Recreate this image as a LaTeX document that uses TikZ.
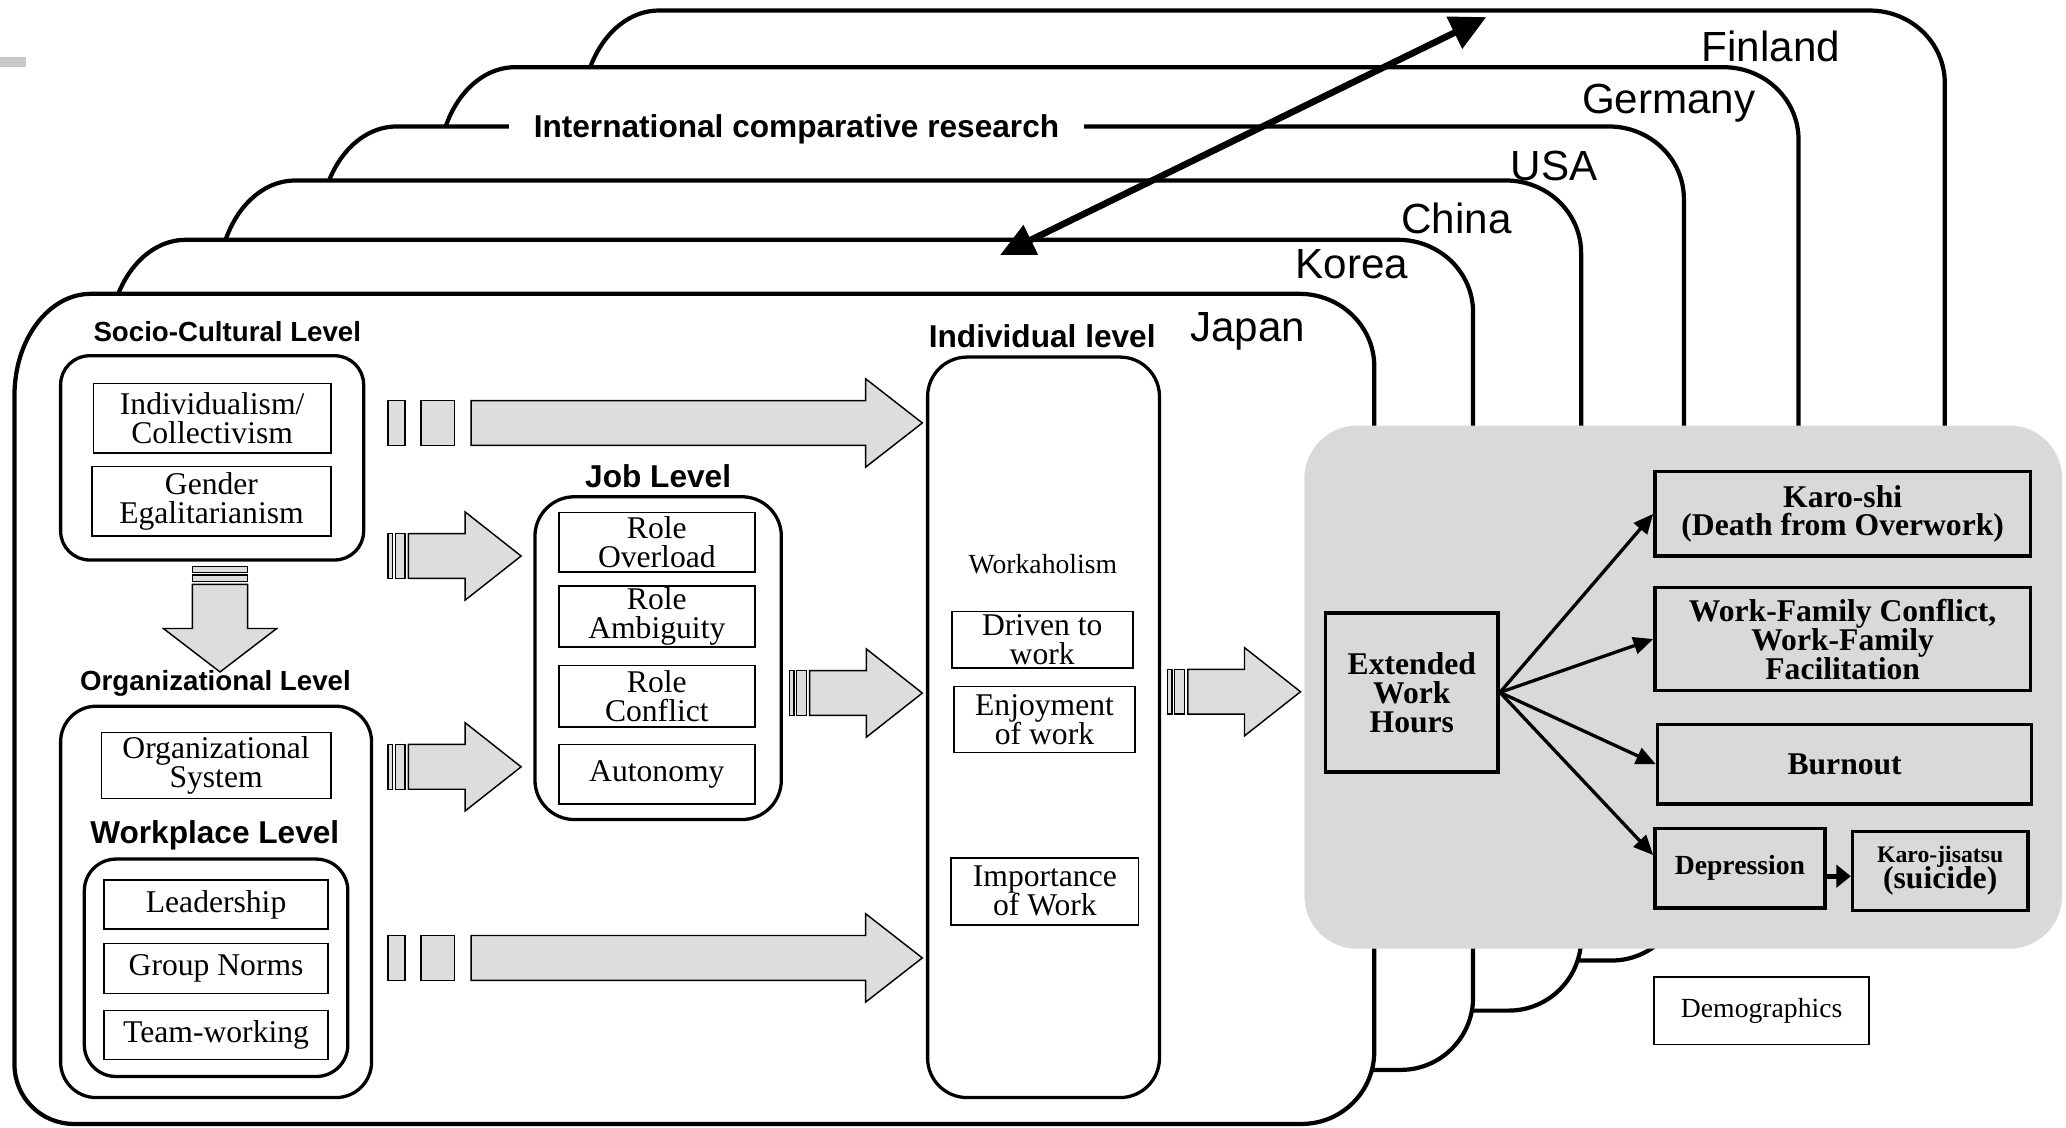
\documentclass[tikz,border=0pt]{standalone}
\usepackage{fontspec}
\setmainfont{Liberation Serif}
\setsansfont{Liberation Sans}
\usetikzlibrary{arrows.meta,calc}
\definecolor{panelgray}{RGB}{217,217,217}
\definecolor{arrowgray}{RGB}{221,221,221}
\definecolor{markgray}{RGB}{200,200,200}
% country frame: left, top, right, bottom
\newcommand\ctryframe[4]{%
  \filldraw[frameline] ({#1},{#2+77}) .. controls ({#1},{#2+34.5}) and ({#1+26},{#2}) .. ({#1+58},{#2})
  -- ({#3-57},{#2}) .. controls ({#3-25.5},{#2}) and ({#3},{#2+24.6}) .. ({#3},{#2+55})
  -- ({#3},{#4-55}) .. controls ({#3},{#4-24.6}) and ({#3-24.6},{#4}) .. ({#3-55},{#4})
  -- ({#1+45},{#4}) .. controls ({#1+20.1},{#4}) and ({#1},{#4-20.1}) .. ({#1},{#4-45})
  -- cycle;}
\tikzset{
  frameline/.style={draw=black, fill=white, line width=3.2pt},
  blockfill/.style={draw=black, fill=arrowgray, line width=1.1pt},
  grp/.style={draw=black, line width=2.5pt, inner sep=0pt},
  item/.style={draw=black, line width=1.3pt, inner sep=0pt, align=center,
    font=\fontsize{24}{22}\selectfont},
  outbox/.style={draw=black, line width=2.6pt, inner sep=0pt, align=center,
    font=\bfseries\fontsize{24}{22}\selectfont},
  lvl/.style={anchor=base, inner sep=0pt, font=\sffamily\bfseries\fontsize{24}{28}\selectfont},
  lvlsmall/.style={anchor=base, inner sep=0pt, font=\sffamily\bfseries\fontsize{21}{25}\selectfont},
  ctry/.style={anchor=base, inner sep=0pt, font=\sffamily\fontsize{32}{36}\selectfont},
  conn/.style={line width=2.5pt, -{Triangle[length=15pt,width=13pt]}},
  conntwo/.style={line width=3.5pt, -{Triangle[length=11pt,width=17pt]}},
  pics/barA/.style={code={
    \draw[blockfill] (0,-17) rectangle (13,17);
    \draw[blockfill] (25,-17) rectangle (50.5,17);
    \draw[blockfill] (63,-17) -- (362.5,-17) -- (362.5,-33.5) -- (405.5,0) -- (362.5,33.5) -- (362.5,17) -- (63,17) -- cycle;
  }},
  pics/barB/.style={code={
    \draw[blockfill] (0,-17) rectangle (3.5,17);
    \draw[blockfill] (5.5,-17) rectangle (13,17);
    \draw[blockfill] (15.5,-17) -- (58.5,-17) -- (58.5,-33.5) -- (101,0) -- (58.5,33.5) -- (58.5,17) -- (15.5,17) -- cycle;
  }},
}
\begin{document}
\lineskiplimit=-100pt
\begin{tikzpicture}[x=1pt,y=-1pt]
\useasboundingbox (0,0) rectangle (1568,856);
\fill[markgray] (0,43) rectangle (20,51);

% country frames, back to front
\ctryframe{442}{8}{1476}{650}
\ctryframe{333}{51}{1365}{690}
\ctryframe{243}{96}{1278}{729}
\ctryframe{166}{137}{1200}{767}
\ctryframe{83}{182}{1118}{812}
\ctryframe{11}{223}{1043}{853}

\node[ctry] (finland) at (1344,47) {Finland};
\node[ctry] (germany) at (1266.5,86) {Germany};
\node[ctry] (usa) at (1179.5,137) {USA};
\node[ctry] (china) at (1105.5,177) {China};
\node[ctry] (korea) at (1026,211) {Korea};
\node[ctry] (japan) at (947,259) {Japan};

\node[anchor=base, fill=white, inner xsep=19pt, inner ysep=3pt,
  font=\sffamily\bfseries\fontsize{24}{28}\selectfont] (icr) at (604.5,104) {International comparative research};

% results panel
\node[fill=panelgray, rounded corners=40pt, minimum width=575pt, minimum height=397pt, inner sep=0pt] (panel) at (1277.5,521.5) {};

% socio-cultural level
\node[lvlsmall] (socioL) at (172.5,259.5) {Socio-Cultural Level};
\node[grp, rounded corners=22pt, minimum width=230pt, minimum height=155pt] (socio) at (161,347.5) {};
\node[item, minimum width=180pt, minimum height=53pt] (indiv) at (161,317.5) {Individualism/\\Collectivism};
\node[item, minimum width=181pt, minimum height=53pt] (gender) at (160.5,380.5) {Gender\\Egalitarianism};

% down arrow
\draw[blockfill] (146,430) rectangle (188,434.5);
\draw[blockfill] (146,436.5) rectangle (188,441.5);
\draw[blockfill] (146,443.5) -- (146,477) -- (124,477) -- (167,510) -- (210,477) -- (188,477) -- (188,443.5) -- cycle;

% organizational level
\node[lvlsmall] (orgL) at (163.5,524) {Organizational Level};
\node[grp, rounded corners=27pt, minimum width=236pt, minimum height=297pt] (org) at (164,684.5) {};
\node[item, minimum width=174pt, minimum height=50pt] (orgsys) at (164,581) {Organizational\\System};
\node[lvl] (wpL) at (163,640.5) {Workplace Level};
\node[grp, rounded corners=24pt, minimum width=200pt, minimum height=165pt] (wp) at (164,734.5) {};
\node[item, minimum width=170pt, minimum height=37pt] (lead) at (164,686.5) {Leadership};
\node[item, minimum width=170pt, minimum height=38pt] (group) at (164,735) {Group Norms};
\node[item, minimum width=170pt, minimum height=37pt] (team) at (164,785.5) {Team-working};

% job level
\node[lvl] (jobL) at (499.5,370) {Job Level};
\node[grp, rounded corners=30pt, minimum width=187pt, minimum height=245pt] (job) at (499.5,499.5) {};
\node[item, minimum width=149pt, minimum height=45pt] (overload) at (498.5,411.5) {Role\\Overload};
\node[item, minimum width=149pt, minimum height=46pt] (ambig) at (498.5,468) {Role\\Ambiguity};
\node[item, minimum width=149pt, minimum height=47pt] (conflict) at (498.5,528.5) {Role\\Conflict};
\node[item, minimum width=149pt, minimum height=45pt] (auton) at (498.5,587.5) {Autonomy};

% individual level
\node[lvl] (indL) at (791,264) {Individual level};
\node[grp, rounded corners=30pt, minimum width=176pt, minimum height=562pt] (ind) at (792,552) {};
\node[anchor=base, inner sep=0pt, font=\fontsize{21}{24}\selectfont] (workah) at (791.5,435) {Workaholism};
\node[item, minimum width=137.5pt, minimum height=43pt] (driven) at (791,485.5) {Driven to\\work};
\node[item, minimum width=137.5pt, minimum height=50pt] (enjoy) at (792.75,546) {Enjoyment\\of work};
\node[item, minimum width=142pt, minimum height=51pt] (importance) at (793,676.5) {Importance\\of Work};

% block arrows
\pic at (294.5,321) {barA};
\pic at (294.5,727) {barA};
\pic at (294.5,422) {barB};
\pic at (294.5,582) {barB};
\pic at (599,526) {barB};
\pic at (886,525) {barB};

% outcomes
\node[outbox, line width=2.8pt, minimum width=131pt, minimum height=121pt,
  font=\bfseries\fontsize{24}{22}\selectfont] (ext) at (1071.5,525.5) {Extended\\Work\\Hours};
\node[outbox, minimum width=285pt, minimum height=64pt,
  font=\bfseries\fontsize{24}{21.5}\selectfont] (karoshi) at (1398.5,390) {Karo-shi\\(Death from Overwork)};
\node[outbox, minimum width=285pt, minimum height=78pt] (wfc) at (1398.5,485) {Work-Family Conflict,\\Work-Family\\Facilitation};
\node[outbox, minimum width=284pt, minimum height=60.5pt] (burnout) at (1400,580) {Burnout};
\node[outbox, minimum width=129pt, minimum height=60.5pt,
  font=\bfseries\fontsize{21}{24}\selectfont] (depression) at (1320.5,659) {Depression};
\node[outbox, minimum width=133pt, minimum height=60pt,
  font=\bfseries\fontsize{18}{20}\selectfont] (karojisatsu) at (1472.5,661)
  {Karo-jisatsu\\\fontsize{24}{20}\selectfont (suicide)};
\node[item, fill=white, minimum width=163pt, minimum height=51.5pt,
  font=\fontsize{21}{24}\selectfont] (demo) at (1337,767) {Demographics};

\draw[conn] (ext.east) -- (karoshi.west);
\draw[conn] (ext.east) -- (wfc.west);
\draw[conn] (ext.east) -- (burnout.west);
\draw[conn] (ext.east) -- ($(depression.west)+(0,-10)$);
\draw[conntwo] ($(depression.east)+(0,6)$) -- ($(karojisatsu.west)+(0,4)$);

% international comparison double arrow
\coordinate (irA) at (759,193.5);
\coordinate (irB) at (1128,13);
\draw[line width=5pt, {Triangle[length=26pt,width=24pt]}-{Triangle[length=27pt,width=26pt]}] (irA) -- (irB);
\end{tikzpicture}
\end{document}
